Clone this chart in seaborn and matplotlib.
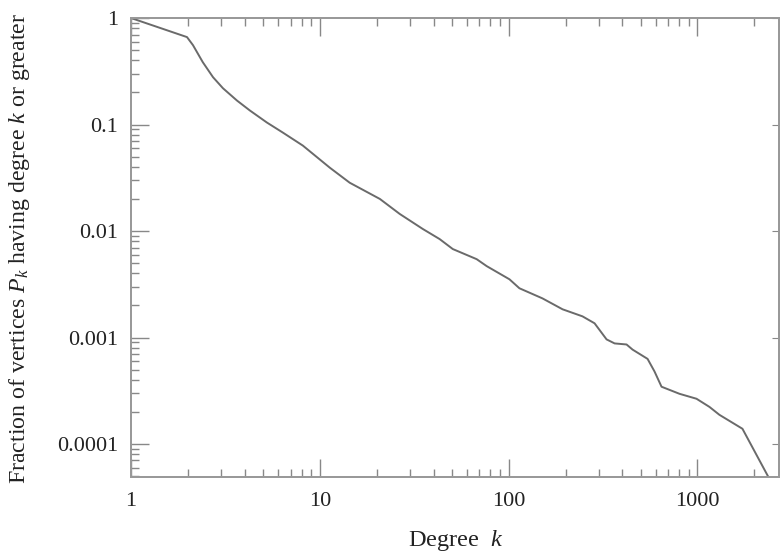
import numpy as np
import pandas as pd
import seaborn as sns
import matplotlib.pyplot as plt
from matplotlib.ticker import FixedLocator, FixedFormatter, LogLocator, NullFormatter, NullLocator

# cumulative degree distribution
degree = [1, 1.98, 2.13, 2.40, 2.72, 3.07, 3.64, 4.26, 5.24, 6.37, 8.13, 11.3,
          14.4, 20.8, 26.5, 35.1, 43.1, 50.6, 67.7, 76.5, 101, 114, 151, 193,
          246, 285, 330, 364, 421, 453, 544, 592, 645, 803, 988, 1157, 1306,
          1730, 2404]
frac = [1.0, 0.662, 0.556, 0.385, 0.278, 0.219, 0.168, 0.1355, 0.1045, 0.084,
        0.0634, 0.0393, 0.0284, 0.0200, 0.01446, 0.01045, 0.0084, 0.00677,
        0.00544, 0.00468, 0.00352, 0.0029, 0.00233, 0.00184, 0.00158, 0.00136,
        0.00096, 0.00088, 0.00086, 0.00077, 0.00063, 0.00048, 0.000345,
        0.000296, 0.000266, 0.000223, 0.000188, 0.000139, 0.000047]

xticks = [1, 10, 100, 1000]
xlabels = ['1', '10', '100', '1000']
yticks = [1, 0.1, 0.01, 0.001, 0.0001]
ylabels = ['1', '0.1', '0.01', '0.001', '0.0001']

df = pd.DataFrame({'k': degree, 'P': frac})

sns.set_style('white')
plt.rcParams['font.family'] = ['Liberation Serif', 'DejaVu Serif']
plt.rcParams['mathtext.fontset'] = 'custom'
plt.rcParams['mathtext.rm'] = 'Liberation Serif'
plt.rcParams['mathtext.it'] = 'Liberation Serif:italic'

fig, ax = plt.subplots(figsize=(7.81, 5.56), dpi=100)
fig.subplots_adjust(left=0.1677, right=0.998, top=0.9676, bottom=0.1421)
ax.set(xscale='log', yscale='log')

sns.lineplot(data=df, x='k', y='P', ax=ax, color='#6a6a6a', linewidth=1.4,
             estimator=None, sort=False)

ax.set_xlim(1, 2716)
ax.set_ylim(4.9e-5, 1)

ax.xaxis.set_major_locator(FixedLocator(xticks))
ax.xaxis.set_major_formatter(FixedFormatter(xlabels))
ax.yaxis.set_major_locator(FixedLocator(yticks))
ax.yaxis.set_major_formatter(FixedFormatter(ylabels))
ax.xaxis.set_minor_locator(LogLocator(base=10, subs=np.arange(2, 10), numticks=20))
ax.yaxis.set_minor_locator(LogLocator(base=10, subs=np.arange(2, 10), numticks=20))
ax.xaxis.set_minor_formatter(NullFormatter())
ax.yaxis.set_minor_formatter(NullFormatter())

ax.tick_params(which='both', direction='in', color='#888888', width=1.0,
               bottom=True, left=True, top=True, right=False,
               labelsize=16, labelcolor='#222222', pad=9)
ax.tick_params(which='major', length=13)
ax.tick_params(which='minor', length=6)
ax.tick_params(axis='x', pad=11)

# right side: short major ticks only
rax = ax.twinx()
rax.set_yscale('log')
rax.set_ylim(ax.get_ylim())
rax.yaxis.set_major_locator(FixedLocator(yticks))
rax.yaxis.set_minor_locator(NullLocator())
rax.tick_params(axis='y', direction='in', length=5, color='#888888',
                right=True, labelright=False)

for a in (ax, rax):
    for s in a.spines.values():
        s.set_color('#999999')
        s.set_linewidth(1.3)

ax.set_xlabel('Degree  $k$', fontsize=17.5, color='#222222', labelpad=12)
ax.set_ylabel('Fraction of vertices $P_k$ having degree $k$ or greater',
              fontsize=17.2, color='#222222')
ax.yaxis.set_label_coords(-0.153, 0.497)

fig.savefig('out.png', dpi=100)
